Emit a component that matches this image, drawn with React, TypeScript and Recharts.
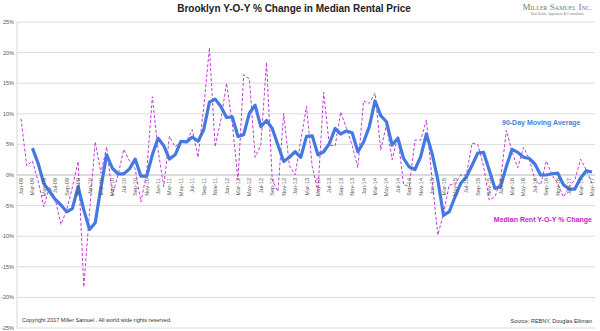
import { LineChart, Line, XAxis, YAxis, CartesianGrid, ReferenceLine } from "recharts";

// monthly categories, Jan-09 .. May-17
const months = [
  "Jan-09", "Feb-09", "Mar-09", "Apr-09", "May-09", "Jun-09", "Jul-09", "Aug-09", "Sep-09", "Oct-09", "Nov-09", "Dec-09",
  "Jan-10", "Feb-10", "Mar-10", "Apr-10", "May-10", "Jun-10", "Jul-10", "Aug-10", "Sep-10", "Oct-10", "Nov-10", "Dec-10",
  "Jan-11", "Feb-11", "Mar-11", "Apr-11", "May-11", "Jun-11", "Jul-11", "Aug-11", "Sep-11", "Oct-11", "Nov-11", "Dec-11",
  "Jan-12", "Feb-12", "Mar-12", "Apr-12", "May-12", "Jun-12", "Jul-12", "Aug-12", "Sep-12", "Oct-12", "Nov-12", "Dec-12",
  "Jan-13", "Feb-13", "Mar-13", "Apr-13", "May-13", "Jun-13", "Jul-13", "Aug-13", "Sep-13", "Oct-13", "Nov-13", "Dec-13",
  "Jan-14", "Feb-14", "Mar-14", "Apr-14", "May-14", "Jun-14", "Jul-14", "Aug-14", "Sep-14", "Oct-14", "Nov-14", "Dec-14",
  "Jan-15", "Feb-15", "Mar-15", "Apr-15", "May-15", "Jun-15", "Jul-15", "Aug-15", "Sep-15", "Oct-15", "Nov-15", "Dec-15",
  "Jan-16", "Feb-16", "Mar-16", "Apr-16", "May-16", "Jun-16", "Jul-16", "Aug-16", "Sep-16", "Oct-16", "Nov-16", "Dec-16",
  "Jan-17", "Feb-17", "Mar-17", "Apr-17", "May-17",
];

// Median Rent Y-O-Y % Change (dashed)
const medianRentYoY = [
  9.2, 1.5, 2.3, -1.0, -5.2, -1.9, -4.0, -8.1, -5.7, -2.0, 2.2, -18.3,
  -6.0, 5.4, 0.3, 4.6, -3.3, 0.0, 4.2, 2.3, 1.0, -4.4, 0.3, 12.8,
  4.1, -1.9, 6.3, 4.6, 5.5, 5.5, 7.4, 2.9, 11.0, 20.8, 4.6, 9.0,
  15.0, 8.5, -0.8, 16.4, 15.7, 2.9, 4.9, 18.4, -0.8, -2.7, 10.1, 1.5,
  0.0, 5.7, 11.2, 1.4, -2.7, 13.5, 4.9, 4.7, 10.3, 7.6, 4.8, 1.2,
  12.1, 11.7, 13.4, 4.1, 8.2, 2.5, 6.3, -1.6, -1.8, 5.7, 5.7, 9.0,
  -0.8, -9.8, -6.3, -1.6, -1.6, 0.0, 0.0, 5.2, 5.0, 1.5, -4.1, -3.6,
  -0.8, 7.3, 3.8, 1.2, 4.5, 2.7, -0.8, -1.6, 2.3, 0.0, -1.4, -3.6,
  -1.9, -0.8, 2.6, 0.8, -1.4,
];

// 90-Day Moving Average (solid)
const movingAvg90 = [
  null, null, 4.4, 1.9, -1.4, -2.7, -4.0, -4.9, -6.0, -5.5, -1.9, -5.7,
  -8.9, -7.8, -2.0, 3.3, 1.1, 0.2, 0.2, 1.0, 2.6, -0.2, -0.2, 3.3,
  6.0, 4.8, 2.6, 3.3, 5.5, 5.4, 6.2, 5.5, 7.4, 11.9, 12.4, 11.2,
  9.4, 9.5, 6.3, 6.6, 10.1, 11.4, 7.9, 8.9, 7.6, 4.9, 2.2, 2.9,
  3.8, 2.9, 6.3, 6.4, 3.3, 3.8, 5.1, 7.6, 6.7, 7.2, 6.9, 3.8,
  5.4, 7.9, 12.1, 9.7, 8.7, 4.9, 6.0, 2.7, 1.3, 0.9, 3.0, 6.7,
  3.5, -0.8, -6.6, -6.0, -3.6, -1.4, -0.3, 1.6, 3.6, 3.7, 0.8, -2.2,
  -1.9, 1.4, 4.2, 3.7, 2.9, 2.7, 1.8, 0.0, 0.0, 0.2, 0.3, -1.6,
  -2.3, -2.3, -0.5, 0.7, 0.5,
];

const yTicks = [25, 20, 15, 10, 5, 0, -5, -10, -15, -20, -25];

const data = months.map((month, i) => ({
  month,
  median: medianRentYoY[i],
  avg: movingAvg90[i],
}));

const W = 600;
const H = 331;
const xAxisH = 2;
const margin = { top: 22, right: 5, bottom: 1, left: 0 };
// month labels hang under the 0% line, which sits mid-plot
const zeroShift = (H - margin.top - margin.bottom - xAxisH) / 2;
const font = "'Liberation Sans', Arial, sans-serif";

function MonthTick(props: any) {
  const { x, y, payload, index } = props;
  if (index % 2 !== 0) return null;
  const ty = y - zeroShift + 3;
  return (
    <text
      x={x}
      y={ty}
      transform={`rotate(-90 ${x} ${ty})`}
      textAnchor="end"
      dominantBaseline="central"
      fontSize={5.5}
      fontFamily={font}
      fill="#555"
    >
      {payload.value}
    </text>
  );
}

export default function App() {
  return (
    <div style={{ position: "absolute", left: 0, top: 0, width: W, height: H, background: "#fff", fontFamily: font }}>
      <LineChart width={W} height={H} data={data} margin={margin}>
        <CartesianGrid vertical={false} stroke="#dcdcdc" />
        <XAxis
          dataKey="month"
          height={xAxisH}
          interval={0}
          tickSize={0}
          tickMargin={0}
          tickLine={false}
          axisLine={false}
          padding={{ left: 4, right: 3 }}
          tick={MonthTick}
        />
        <YAxis
          width={17}
          domain={[-25, 25]}
          ticks={yTicks}
          tickFormatter={(v) => `${v}%`}
          tickLine={false}
          tickSize={0}
          tickMargin={3}
          axisLine={{ stroke: "#d6d6d6" }}
          tick={{ fontSize: 5.5, fill: "#555", fontFamily: font }}
        />
        <ReferenceLine y={0} stroke="#c8c8c8" />
        <Line
          type="linear"
          dataKey="median"
          stroke="#C23BD4"
          strokeWidth={1}
          strokeDasharray="3 2"
          dot={false}
          isAnimationActive={false}
        />
        <Line
          type="linear"
          dataKey="avg"
          stroke="#4379E0"
          strokeWidth={3.2}
          strokeLinejoin="round"
          dot={false}
          connectNulls={false}
          isAnimationActive={false}
        />
      </LineChart>

      <div style={{ position: "absolute", left: 0, width: 588, top: 3, textAlign: "center", fontWeight: "bold", fontSize: 10, color: "#222" }}>
        Brooklyn Y-O-Y % Change in Median Rental Price
      </div>
      <div style={{ position: "absolute", right: 8, top: 3, textAlign: "center", color: "#777", fontFamily: "'Liberation Serif', serif" }}>
        <div style={{ fontSize: 9, fontVariant: "small-caps", lineHeight: "9px" }}>Miller Samuel Inc.</div>
        <div style={{ fontSize: 3.5, lineHeight: "5px" }}>Real Estate Appraisers &amp; Consultants</div>
      </div>
      <div style={{ position: "absolute", left: 502, top: 119, fontSize: 7, fontWeight: "bold", color: "#4A7FD8" }}>
        90-Day Moving Average
      </div>
      <div style={{ position: "absolute", right: 8, top: 216, fontSize: 7, fontWeight: "bold", color: "#C026C8" }}>
        Median Rent Y-O-Y % Change
      </div>
      <div style={{ position: "absolute", left: 22, top: 317, fontSize: 5.5, color: "#333" }}>
        Copyright 2017 Miller Samuel .  All world wide rights reserved.
      </div>
      <div style={{ position: "absolute", right: 8, top: 318, fontSize: 5.5, color: "#333" }}>
        Source: REBNY, Douglas Elliman
      </div>
    </div>
  );
}
